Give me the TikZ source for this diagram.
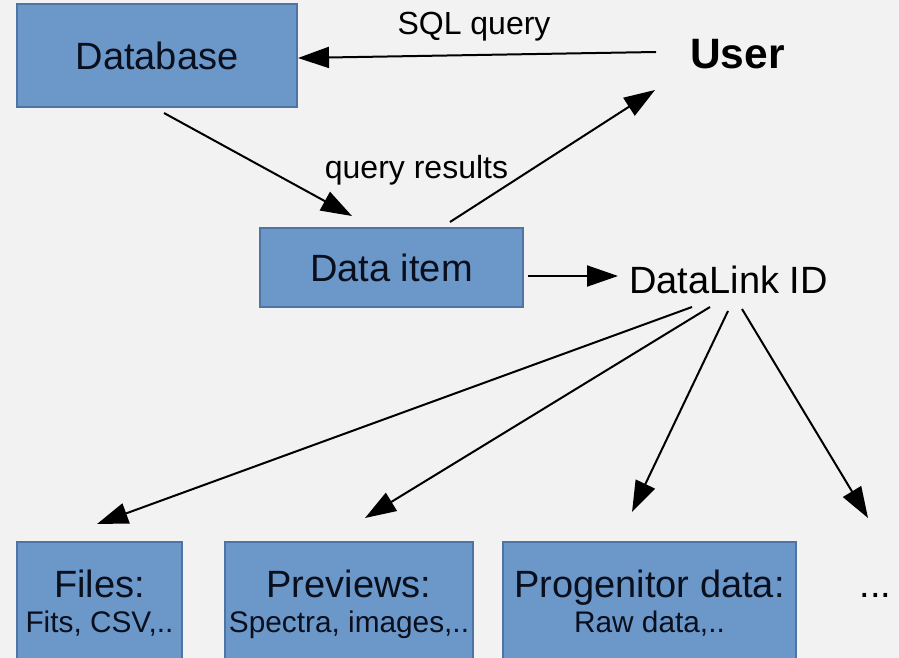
\documentclass[tikz,border=0pt]{standalone}
\usepackage{fontspec}
\setmainfont{Liberation Sans}
\usetikzlibrary{arrows.meta}
\definecolor{bgcol}{HTML}{F2F2F2}
\definecolor{boxfill}{HTML}{6B98C8}
\definecolor{boxline}{HTML}{4E74A4}
\definecolor{ink}{HTML}{0A0F1E}
\begin{document}
\begin{tikzpicture}[x=1pt,y=-1pt,
  box/.style={draw=boxline, line width=1.2pt, fill=boxfill, inner sep=0pt, text=ink},
  arr/.style={line width=2pt, -{Triangle[length=31pt,width=21pt]}},
  lbl/.style={anchor=base, inner sep=0pt},
  bigfont/.style={font=\fontsize{38}{46}\selectfont},
  smallfont/.style={font=\fontsize{29.8}{36}\selectfont},
  edgefont/.style={font=\fontsize{32}{38}\selectfont}]
% canvas
\fill[bgcol] (0,0) rectangle (899,658);
\useasboundingbox (0,0) rectangle (899,658);

% upper boxes
\node[box, bigfont, minimum width=280pt, minimum height=103pt] (db) at (157,55.5) {Database};
\node[box, bigfont, minimum width=263pt, minimum height=79pt] (item) at (391.5,267.5) {Data item};

% free-standing labels
\node[lbl, font=\fontsize{42.5}{50}\selectfont\bfseries] (user) at (737.5,69) {User};
\node[lbl, bigfont] (dlid) at (728.5,293) {DataLink ID};
\node[lbl, edgefont] (sqllbl) at (474,35) {SQL query};
\node[lbl, edgefont] (reslbl) at (416.5,178) {query results};

% lower boxes (running past the bottom edge)
\node[box, minimum width=165pt, minimum height=138pt] (files) at (99.5,611) {};
\node[box, minimum width=248pt, minimum height=138pt] (prev) at (349,611) {};
\node[box, minimum width=293pt, minimum height=138pt] (prog) at (649.5,611) {};

\node[lbl, bigfont, text=ink] (filesT) at (99.5,597) {Files:};
\node[lbl, smallfont, text=ink] (filesS) at (99.5,632) {Fits, CSV,..};
\node[lbl, bigfont, text=ink] (prevT) at (349,597) {Previews:};
\node[lbl, smallfont, text=ink] (prevS) at (349,632) {Spectra, images,..};
\node[lbl, bigfont, text=ink] (progT) at (649.5,597) {Progenitor data:};
\node[lbl, smallfont, text=ink] (progS) at (649.5,632) {Raw data,..};
\node[lbl, bigfont] (more) at (875.5,597) {...};

% connector end points
\coordinate (userL) at (656,52);
\coordinate (dbR) at (298,58);
\coordinate (dbB) at (164,113);
\coordinate (itemT) at (352,216);
\coordinate (itemTR) at (450,222);
\coordinate (userB) at (655,90);
\coordinate (itemR) at (528,276);
\coordinate (dlidL) at (618,276);
\coordinate (dlA) at (692,307);
\coordinate (dlB) at (710,307);
\coordinate (dlC) at (728,311);
\coordinate (dlD) at (742,309);
\coordinate (filesA) at (97,524);
\coordinate (prevA) at (365,518);
\coordinate (progA) at (632,512);
\coordinate (moreA) at (868,518);

% connectors
\draw[arr] (userL) -- (dbR);
\draw[arr] (dbB) -- (itemT);
\draw[arr] (itemTR) -- (userB);
\draw[arr] (itemR) -- (dlidL);
\draw[arr] (dlA) -- (filesA);
\draw[arr] (dlB) -- (prevA);
\draw[arr] (dlC) -- (progA);
\draw[arr] (dlD) -- (moreA);
\end{tikzpicture}
\end{document}
